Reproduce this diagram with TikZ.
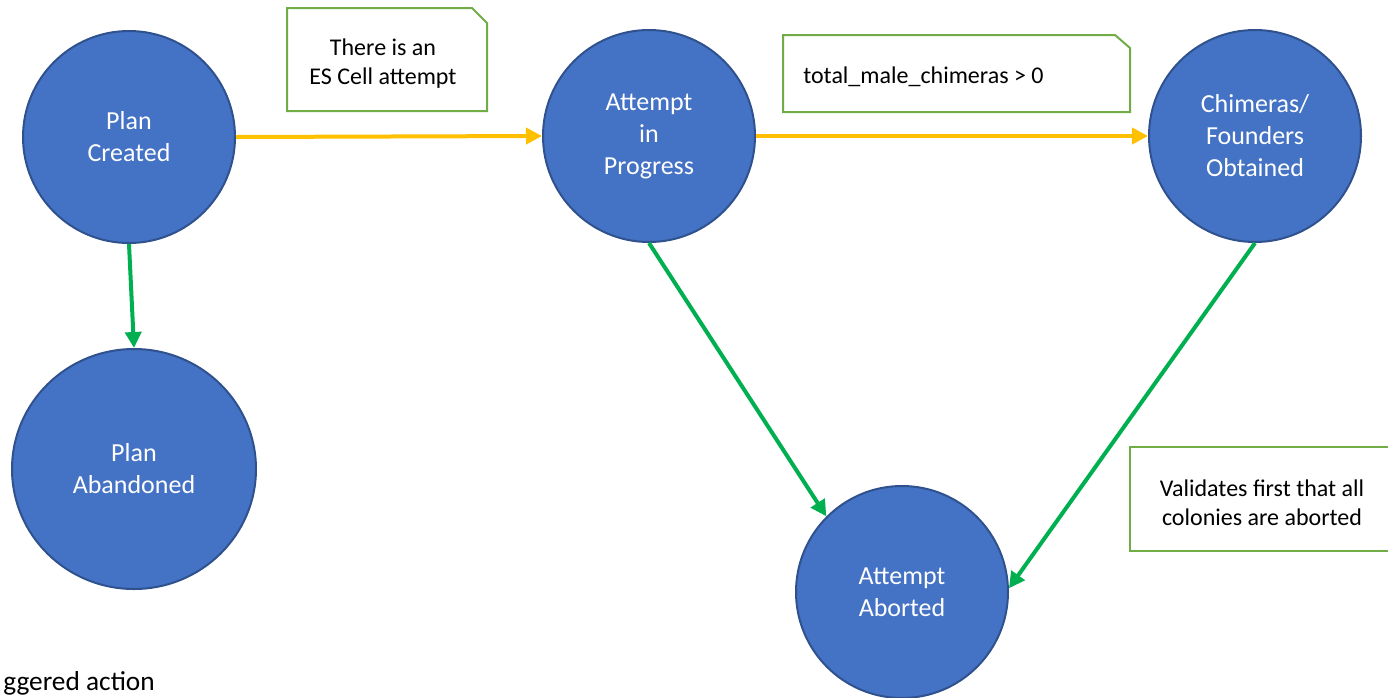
\documentclass[tikz,border=0pt]{standalone}
\usepackage{fontspec}
\setmainfont{Carlito}
\usetikzlibrary{arrows.meta,shapes.geometric,shapes.misc}

\definecolor{stateblue}{HTML}{4472C4}
\definecolor{stateedge}{HTML}{2F528F}
\definecolor{autoarrow}{HTML}{FFC000}
\definecolor{userarrow}{HTML}{00B050}
\definecolor{noteedge}{HTML}{70AD47}

\tikzset{
  state/.style={circle, fill=stateblue, draw=stateedge, line width=1.5pt,
    minimum size=159pt, inner sep=0pt, text=white, align=center,
    font=\fontsize{19.5}{24}\selectfont},
  bigstate/.style={state, ellipse, minimum width=183pt, minimum height=180pt},
  notebox/.style={draw=noteedge, fill=white, line width=1.5pt},
  notetext/.style={text=black, font=\fontsize{18}{21.75}\selectfont, inner sep=0pt},
  trans/.style={line width=3pt, -{Triangle[length=12pt, width=12pt]}},
  auto trans/.style={trans, draw=autoarrow},
  user trans/.style={trans, draw=userarrow},
}

\begin{document}
\begin{tikzpicture}[x=0.75pt, y=-0.75pt]
\useasboundingbox (0,0) rectangle (1388,697);

% states
\node[state]    (pc) at (129,137) {Plan\\Created};
\node[bigstate] (pa) at (134,469) {Plan\\Abandoned};
\node[state]    (ip) at (649,136) {\raisebox{-2pt}{\begin{tabular}{@{}c@{}}Attempt\\in\\Progress\end{tabular}}};
\node[state]    (ch) at (1255,136) {Chimeras/\\Founders\\Obtained};
\node[state]    (ab) at (902,592) {Attempt\\Aborted};

% condition notes (folded top-right corner)
\coordinate (n1) at (287,8);
\draw[notebox] (n1) -- ++(185,0) -- ++(15,15) -- ++(0,88) -- ++(-200,0) -- cycle;
\node[notetext, align=center] (t1) at (383,64) {There is an\\ES Cell attempt};

\coordinate (n2) at (783,35);
\draw[notebox] (n2) -- ++(332,0) -- ++(15,13) -- ++(0,64) -- ++(-347,0) -- cycle;
\node[notetext, anchor=west] (t2) at (803,77) {total\_male\_chimeras > 0};

\coordinate (n3) at (1130,447);
\draw[notebox] (n3) -- ++(270,0) -- ++(0,104) -- ++(-270,0) -- cycle;
\node[notetext, align=center] (t3) at (1262,503) {Validates first that all\\colonies are aborted};

% legend fragment
\node[anchor=base east, inner sep=0pt, font=\fontsize{20.5}{24}\selectfont] (lg) at (155,690) {ggered action};

% transitions
\draw[auto trans] (pc.east) -- (ip.west);
\draw[auto trans] (ip.east) -- (ch.west);
\draw[user trans] (pc.south) -- (pa.north);
\draw[user trans] (ip.south) -- (ab.135);
\draw[user trans] (ch.south) -- (ab.2);
\end{tikzpicture}
\end{document}
